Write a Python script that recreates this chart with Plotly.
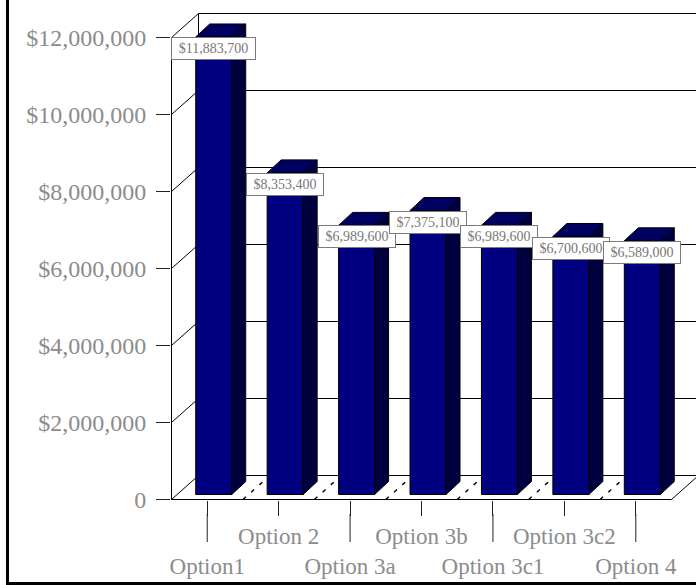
import plotly.graph_objects as go

# Cost per option, in dollars
categories = ["Option1", "Option 2", "Option 3a", "Option 3b", "Option 3c1", "Option 3c2", "Option 4"]
values = [11883700, 8353400, 6989600, 7375100, 6989600, 6700600, 6589000]
y_ticks = [0, 2000000, 4000000, 6000000, 8000000, 10000000, 12000000]
y_labels = ["0", "$2,000,000", "$4,000,000", "$6,000,000", "$8,000,000", "$10,000,000", "$12,000,000"]
value_labels = ["$11,883,700", "$8,353,400", "$6,989,600", "$7,375,100", "$6,989,600", "$6,700,600", "$6,589,000"]

# Page and plot geometry
W, H = 696, 585
LEFT, TOP, BOTTOM = 171, 8, 85
PLOT_W = W - LEFT
PLOT_H = H - TOP - BOTTOM
PX_PER_CATEGORY = 71.43
PX_PER_DOLLAR = 38.5 / 1e6

# Half-pixel range offsets keep the 1px wall lines on whole pixel rows and columns
x_min = -0.5 - 0.5 / PX_PER_CATEGORY
y_min = -0.5 / PX_PER_DOLLAR
X_RANGE = [x_min, x_min + PLOT_W / PX_PER_CATEGORY]
Y_RANGE = [y_min, y_min + PLOT_H / PX_PER_DOLLAR]

# Oblique projection offsets, in axis units
FLOOR_DX, FLOOR_DY = 27 / PX_PER_CATEGORY, 24 / PX_PER_DOLLAR   # front plane to back wall
BAR_DX, BAR_DY = 14 / PX_PER_CATEGORY, 13 / PX_PER_DOLLAR       # depth of one bar
INSET_DX, INSET_DY = 6.5 / PX_PER_CATEGORY, 5 / PX_PER_DOLLAR   # bar front face behind the front plane
BAR_W = 36 / PX_PER_CATEGORY

NAVY = "#000080"
NAVY_SIDE = "#00003f"
NAVY_TOP = "#000060"
TEXT = "#8c8c8c"
SERIF = "Liberation Serif"


def seg(x0, y0, x1, y1, **line):
    style = dict(color="black", width=1)
    style.update(line)
    return dict(type="line", xref="x", yref="y", x0=x0, y0=y0, x1=x1, y1=y1,
                line=style, layer="below")


def page_x(px):
    return (px - LEFT) / PLOT_W


def page_y(py):
    return (H - BOTTOM - py) / PLOT_H


shapes = []
x_left, x_right = -0.5, X_RANGE[1]
top_value = y_ticks[-1]

# Walls: front edge, back edge, and a receding line plus back line for each gridline
shapes.append(seg(x_left, 0, x_left, top_value))
shapes.append(seg(x_left + FLOOR_DX, FLOOR_DY, x_left + FLOOR_DX, top_value + FLOOR_DY))
for v in y_ticks:
    shapes.append(seg(x_left, v, x_left + FLOOR_DX, v + FLOOR_DY))
    shapes.append(seg(x_left + FLOOR_DX, v + FLOOR_DY, x_right, v + FLOOR_DY))

# Floor outline and the dashed dividers between categories
n = len(categories)
floor_end = n - 0.5
shapes.append(seg(x_left, 0, floor_end, 0))
shapes.append(seg(floor_end, 0, floor_end + FLOOR_DX, FLOOR_DY))
for i in range(n - 1):
    shapes.append(seg(i + 0.5, 0, i + 0.5 + FLOOR_DX, FLOOR_DY, dash="4px,7px", width=1.4))

# Every other category gets a longer tick reaching past its neighbour's label
for i in range(0, n, 2):
    shapes.append(dict(type="line", xref="x", yref="paper", x0=i, x1=i,
                       y0=page_y(514), y1=page_y(542),
                       line=dict(color="#222222", width=1), layer="below"))

# Page frame along the left and bottom edges
shapes.append(dict(type="rect", xref="paper", yref="paper", layer="above",
                   x0=page_x(6), x1=page_x(9), y0=page_y(0), y1=page_y(H),
                   fillcolor="black", line_width=0))
shapes.append(dict(type="rect", xref="paper", yref="paper", layer="above",
                   x0=page_x(6), x1=page_x(W), y0=page_y(582), y1=page_y(H),
                   fillcolor="black", line_width=0))

fig = go.Figure()

fig.add_bar(
    x=[i + INSET_DX for i in range(n)],
    y=values,
    base=INSET_DY,
    width=BAR_W,
    marker=dict(color=NAVY, line=dict(color="black", width=1)),
    hoverinfo="skip",
)

side_x, side_y, top_x, top_y = [], [], [], []
for i, v in enumerate(values):
    xl = i + INSET_DX - BAR_W / 2
    xr = i + INSET_DX + BAR_W / 2
    y0 = INSET_DY
    y1 = v + INSET_DY
    side_x += [xr, xr + BAR_DX, xr + BAR_DX, xr, xr, None]
    side_y += [y0, y0 + BAR_DY, y1 + BAR_DY, y1, y0, None]
    top_x += [xl, xr, xr + BAR_DX, xl + BAR_DX, xl, None]
    top_y += [y1, y1, y1 + BAR_DY, y1 + BAR_DY, y1, None]

for xs, ys, color in ((side_x, side_y, NAVY_SIDE), (top_x, top_y, NAVY_TOP)):
    fig.add_scatter(x=xs, y=ys, mode="lines", fill="toself", fillcolor=color,
                    line=dict(color="black", width=1), hoverinfo="skip")

# Value boxes sit with their top edge on the bar's front top edge
annotations = []
for i, (v, label) in enumerate(zip(values, value_labels)):
    annotations.append(dict(
        x=i + INSET_DX, y=v + INSET_DY, xref="x", yref="y",
        xanchor="center", yanchor="top", showarrow=False,
        text=label, font=dict(family=SERIF, size=14, color="#777777"),
        width=83 if len(label) > 10 else 76, height=21,
        bgcolor="white", bordercolor="#7a7a7a", borderwidth=1, borderpad=0,
    ))

# Odd categories sit on the upper label row, even ones drop to the lower row
tick_text = [("<br>" + c) if i % 2 == 0 else c for i, c in enumerate(categories)]

fig.update_layout(
    width=W, height=H,
    autosize=False,
    margin=dict(l=LEFT, r=0, t=TOP, b=BOTTOM, pad=0),
    paper_bgcolor="white", plot_bgcolor="white",
    showlegend=False,
    shapes=shapes,
    annotations=annotations,
    xaxis=dict(
        range=X_RANGE, showgrid=False, zeroline=False, showline=False,
        tickmode="array", tickvals=list(range(n)), ticktext=tick_text,
        ticks="outside", ticklen=15, tickwidth=1, tickcolor="#222222",
        tickangle=0, ticklabelstandoff=0,
        tickfont=dict(family=SERIF, size=23, color=TEXT),
    ),
    yaxis=dict(
        range=Y_RANGE, showgrid=False, zeroline=False, showline=False,
        tickmode="array", tickvals=y_ticks, ticktext=y_labels,
        ticks="outside", ticklen=14, tickwidth=1, tickcolor="#222222",
        ticklabelstandoff=5,
        tickfont=dict(family=SERIF, size=24, color=TEXT),
    ),
)

fig.write_html("out.html", config=dict(displayModeBar=False))
